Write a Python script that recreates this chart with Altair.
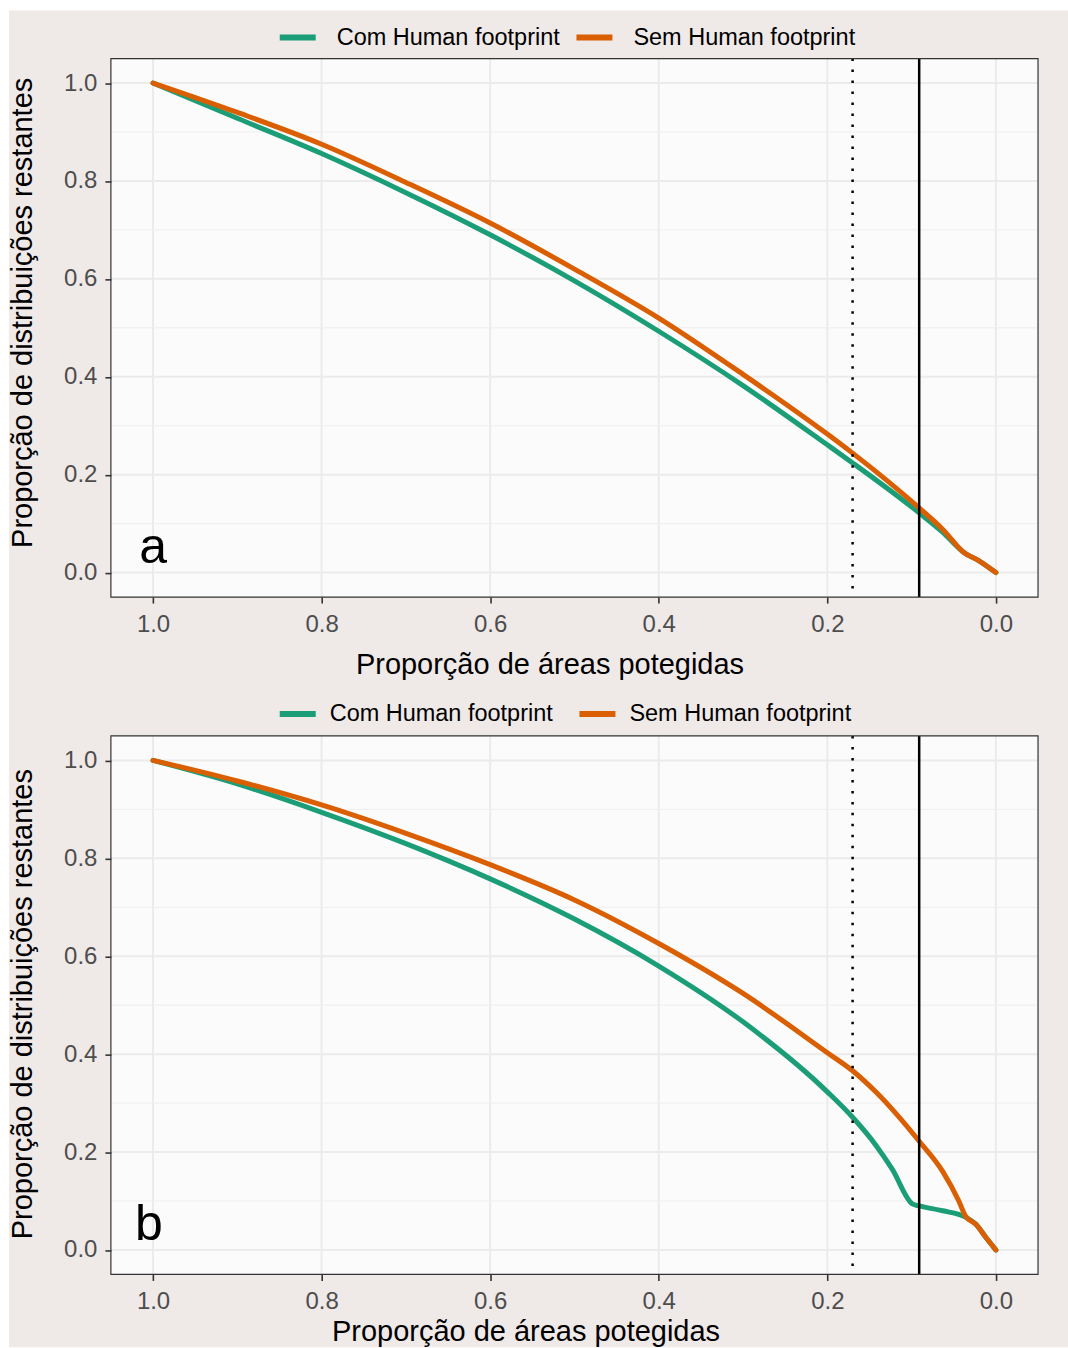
import altair as alt
import pandas as pd

# ---------------- data ----------------
SERIES = ["Com Human footprint", "Sem Human footprint"]
COLORS = ["#1B9E77", "#D95F02"]
X_TICKS = [1.0, 0.8, 0.6, 0.4, 0.2, 0.0]
Y_TICKS = [0.0, 0.2, 0.4, 0.6, 0.8, 1.0]
Y_MINOR = [0.1, 0.3, 0.5, 0.7, 0.9]
VLINE_DOTTED = 0.17
VLINE_SOLID = 0.091

# panel a
a_com_x = [1.0, 0.9, 0.8, 0.7, 0.6, 0.5, 0.4, 0.3, 0.2, 0.17, 0.091, 0.0635, 0.038, 0.02, 0.0]
a_com_y = [1.0, 0.928, 0.856, 0.776, 0.690, 0.596, 0.493, 0.382, 0.261, 0.224, 0.122, 0.083, 0.041, 0.024, 0.0]
a_sem_x = [1.0, 0.9, 0.8, 0.7, 0.6, 0.5, 0.4, 0.3, 0.2, 0.17, 0.091, 0.0635, 0.038, 0.02, 0.0]
a_sem_y = [1.0, 0.940, 0.875, 0.797, 0.714, 0.620, 0.520, 0.405, 0.283, 0.244, 0.132, 0.089, 0.041, 0.024, 0.0]

# panel b
b_com_x = [1.0, 0.9, 0.8, 0.7, 0.6, 0.5, 0.4, 0.3, 0.2, 0.17, 0.142, 0.123, 0.099, 0.091, 0.063, 0.036, 0.024, 0.012, 0.0]
b_com_y = [1.0, 0.952, 0.894, 0.830, 0.758, 0.676, 0.580, 0.466, 0.323, 0.271, 0.213, 0.165, 0.094, 0.090, 0.080, 0.067, 0.053, 0.026, 0.0]
b_sem_x = [1.0, 0.9, 0.8, 0.7, 0.6, 0.5, 0.4, 0.3, 0.2, 0.17, 0.142, 0.091, 0.063, 0.044, 0.036, 0.024, 0.012, 0.0]
b_sem_y = [1.0, 0.958, 0.909, 0.851, 0.787, 0.715, 0.626, 0.524, 0.403, 0.366, 0.322, 0.222, 0.160, 0.100, 0.069, 0.053, 0.026, 0.0]

X_TITLE = "Proporção de áreas potegidas"
Y_TITLE = "Proporção de distribuições restantes"

# ---------------- style ----------------
FONT = "Liberation Sans"
PAGE_BG = "#EFE9E8"
PANEL_BG = "#FBFBFB"
GRID = "#EBEBEB"
W, H = 928, 539

XS = alt.Scale(domain=[-0.05, 1.05], reverse=True, nice=False, zero=False)
YS = alt.Scale(domain=[-0.05, 1.05], nice=False, zero=False)


def series_df(cx, cy, sx, sy):
    rows = [{"x": x, "y": y, "s": SERIES[0]} for x, y in zip(cx, cy)]
    rows += [{"x": x, "y": y, "s": SERIES[1]} for x, y in zip(sx, sy)]
    return pd.DataFrame(rows)


def panel(df, letter, letter_x, bg_top, bg_bottom, leg_y, label_offset, col_pad,
          xtitle_x, xtitle_y, ytitle_y):
    one = pd.DataFrame({"k": [0]})
    page = alt.Chart(one).mark_rect(fill=PAGE_BG, strokeWidth=0).encode(
        x=alt.value(-102), x2=alt.value(958), y=alt.value(bg_top), y2=alt.value(bg_bottom)
    )
    plotbg = alt.Chart(one).mark_rect(fill=PANEL_BG, strokeWidth=0).encode(
        x=alt.value(0), x2=alt.value(W), y=alt.value(0), y2=alt.value(H)
    )
    xgrid = alt.Chart(pd.DataFrame({"x": X_TICKS})).mark_rule(color=GRID, strokeWidth=2).encode(
        x=alt.X("x:Q", scale=XS, axis=alt.Axis(
            values=X_TICKS, format=".1f", title=X_TITLE, grid=False, domain=False,
            labelFont=FONT, labelFontSize=24, labelColor="#4D4D4D", labelPadding=9,
            tickColor="#333333", tickWidth=1.6, tickSize=6,
            titleFont=FONT, titleFontSize=29, titleFontWeight="normal", titleColor="#000000",
            titleX=xtitle_x, titleY=xtitle_y, titleBaseline="middle", titleAlign="center",
            zindex=1))
    )
    ygrid = alt.Chart(pd.DataFrame({"y": Y_TICKS})).mark_rule(color=GRID, strokeWidth=2).encode(
        y=alt.Y("y:Q", scale=YS, axis=alt.Axis(
            values=Y_TICKS, format=".1f", title=Y_TITLE, grid=False, domain=False,
            labelFont=FONT, labelFontSize=24, labelColor="#4D4D4D", labelPadding=8,
            tickColor="#333333", tickWidth=1.6, tickSize=6,
            titleFont=FONT, titleFontSize=29, titleFontWeight="normal", titleColor="#000000",
            titleX=-88, titleY=ytitle_y, titleBaseline="middle", titleAlign="center",
            titleAngle=270, zindex=1))
    )
    yminor = alt.Chart(pd.DataFrame({"y": Y_MINOR})).mark_rule(color="#EEEEEE", strokeWidth=1).encode(
        y=alt.Y("y:Q", scale=YS)
    )
    lines = alt.Chart(df).mark_line(strokeWidth=5, strokeCap="round", strokeJoin="round",
                                    interpolate="monotone").encode(
        x=alt.X("x:Q", scale=XS),
        y=alt.Y("y:Q", scale=YS),
        color=alt.Color("s:N", scale=alt.Scale(domain=SERIES, range=COLORS), legend=alt.Legend(
            title=None, orient="none", legendX=166, legendY=leg_y, direction="horizontal",
            symbolType="stroke", symbolSize=1296, symbolStrokeWidth=6,
            labelFont=FONT, labelFontSize=23.5, labelColor="#000000", labelLimit=400,
            labelOffset=label_offset, columnPadding=col_pad)),
    )
    vdot = alt.Chart(pd.DataFrame({"x": [VLINE_DOTTED]})).mark_rule(
        color="#000000", strokeWidth=2.5, strokeDash=[2.5, 8.5]
    ).encode(x=alt.X("x:Q", scale=XS))
    vsol = alt.Chart(pd.DataFrame({"x": [VLINE_SOLID]})).mark_rule(
        color="#000000", strokeWidth=2.5
    ).encode(x=alt.X("x:Q", scale=XS))
    border = alt.Chart(one).mark_rect(fill=None, stroke="#333333", strokeWidth=1.2).encode(
        x=alt.value(0), x2=alt.value(W), y=alt.value(0), y2=alt.value(H)
    )
    txt = alt.Chart(pd.DataFrame({"x": [letter_x], "y": [0.02], "t": [letter]})).mark_text(
        font=FONT, fontSize=50, color="#000000", align="center", baseline="alphabetic"
    ).encode(x=alt.X("x:Q", scale=XS), y=alt.Y("y:Q", scale=YS), text="t:N")

    return alt.layer(page, plotbg, xgrid, ygrid, yminor, lines, vdot, vsol, border, txt).properties(
        width=W, height=H
    )


pa = panel(series_df(a_com_x, a_com_y, a_sem_x, a_sem_y), "a", 1.0, -48, 622, -42, 18, 4,
           439, 68, 254)
pb = panel(series_df(b_com_x, b_com_y, b_sem_x, b_sem_y), "b", 1.005, -56, 612, -43, 11, 14,
           415, 57, 268)

chart = alt.vconcat(pa, pb, spacing=0).resolve_scale(
    x="independent", y="independent", color="independent"
).resolve_legend(color="independent").properties(
    background="white",
    padding={"left": 8, "top": 10, "right": 0, "bottom": 0},
).configure_view(stroke=None)

chart.save("out.html", embed_options={"renderer": "svg", "actions": False})
